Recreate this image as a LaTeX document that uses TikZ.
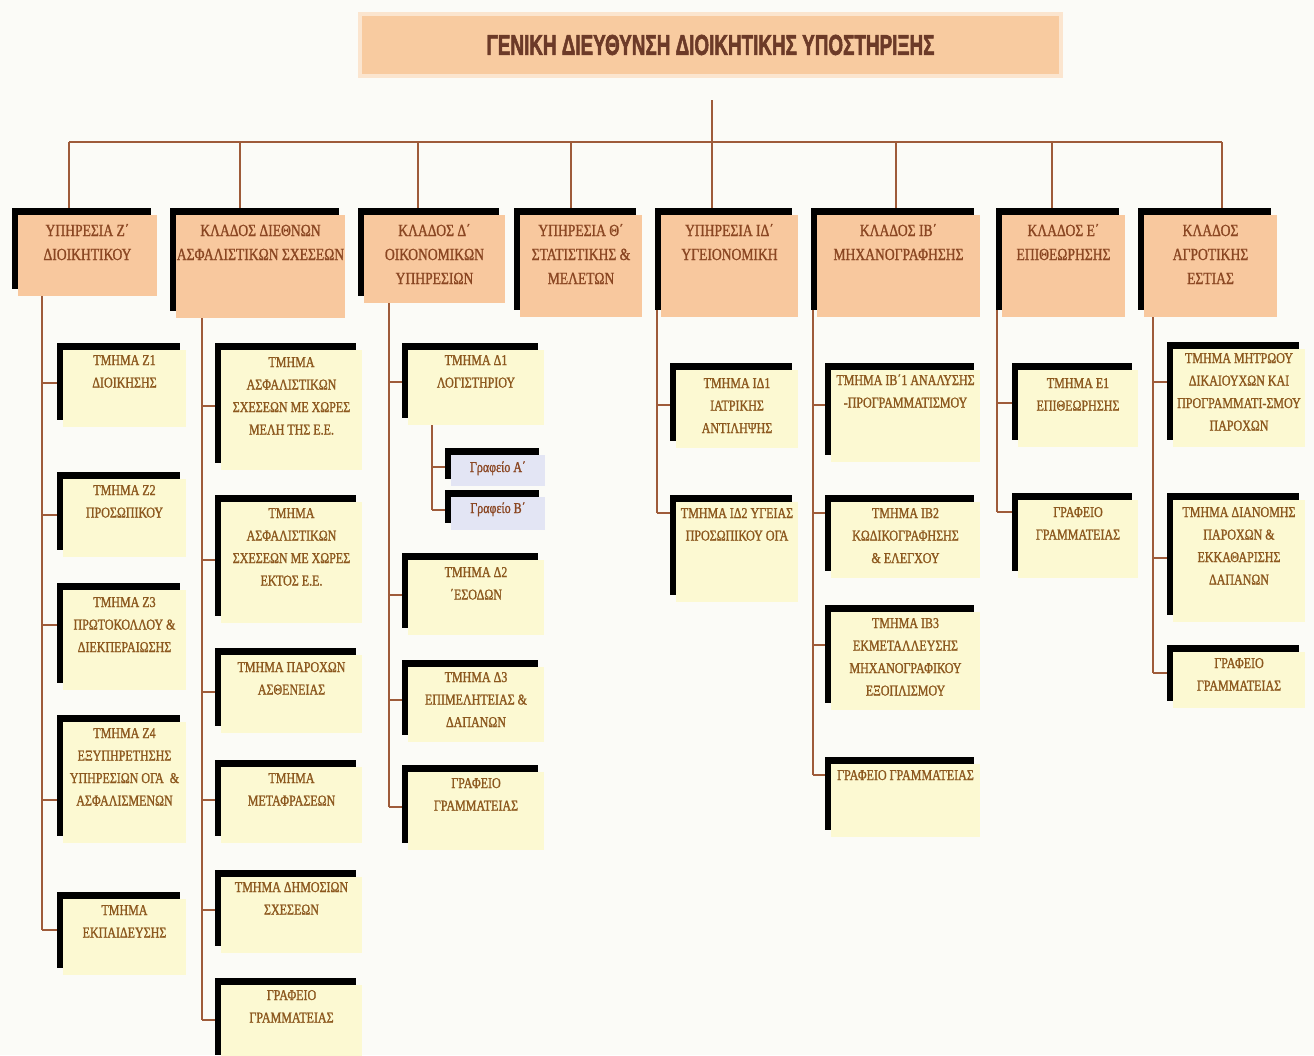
\documentclass[tikz,border=0pt]{standalone}
\usepackage{fontspec}
\setmainfont{Liberation Serif}
\newfontfamily\bodyfont[FakeStretch=0.8,FakeBold=1.2]{Liberation Serif}
\newfontfamily\titlefont[FakeBold=2.5]{Liberation Sans}
\usetikzlibrary{shadows,backgrounds}
\definecolor{bg}{HTML}{FBFBF7}
\definecolor{hdr}{HTML}{F8CBA0}
\definecolor{lone}{HTML}{F8C89E}
\definecolor{ltwo}{HTML}{FCF9D2}
\definecolor{lgraf}{HTML}{E3E5F4}
\definecolor{txtone}{HTML}{8A4622}
\definecolor{txttwo}{HTML}{8C581E}
\definecolor{conn}{HTML}{9E5B3A}
\definecolor{ttl}{HTML}{6C3A28}
\newcommand\ov[1]{\makebox[0pt]{#1}}
\newcommand\ubox[8]{%
  \node[#2, inner sep=0pt, outer sep=0pt, anchor=north west] (#1) at (#3,#4)
  {\parbox[c][\dimexpr#6pt-#4pt\relax][t]{\dimexpr#5pt-#3pt\relax}{\exhyphenpenalty=10000\hyphenpenalty=10000\centering\rule{0pt}{#7pt}#8\par}};}
\newcommand\child[9]{\ubox{#1}{#2}{#3}{#4}{#5}{#6}{#7}{#9}\coordinate (#1-in) at (#3,#8);}
\tikzset{
  blackl/.style={drop shadow={shadow xshift=-6pt,shadow yshift=7pt,fill=black,opacity=1}},
  lvlone/.style={blackl, fill=lone, text=txtone, font=\bodyfont\fontsize{17}{24}\selectfont},
  lvltwo/.style={blackl, fill=ltwo, text=txttwo, font=\bodyfont\fontsize{15}{22.5}\selectfont},
  grafbox/.style={blackl, fill=lgraf, text=txtone, font=\bodyfont\fontsize{15}{22}\selectfont},
  wire/.style={draw=conn, line width=1.4pt},
}
\begin{document}
\begin{tikzpicture}[x=1pt,y=-1pt]
\useasboundingbox (0,0) rectangle (1314,1055);
% header
\node[fill=hdr, draw=hdr!50, line width=4pt, minimum width=701pt, minimum height=62pt, inner sep=0pt, text=ttl] (top) at (710.5,45)
  {\raisebox{-3pt}{\resizebox{448pt}{20pt}{\titlefont\bfseries ΓΕΝΙΚΗ ΔΙΕΥΘΥΝΣΗ ΔΙΟΙΚΗΤΙΚΗΣ ΥΠΟΣΤΗΡΙΞΗΣ}}};
% level one
\ubox{b1}{lvlone}{18}{215}{157}{296}{21}{ΥΠΗΡΕΣΙΑ Ζ΄\\ΔΙΟΙΚΗΤΙΚΟΥ}
\ubox{b2}{lvlone}{176}{215}{345}{318}{21}{ΚΛΑΔΟΣ ΔΙΕΘΝΩΝ\\\ov{ΑΣΦΑΛΙΣΤΙΚΩΝ ΣΧΕΣΕΩΝ}}
\ubox{b3}{lvlone}{364}{215}{505}{303}{21}{ΚΛΑΔΟΣ Δ΄\\ΟΙΚΟΝΟΜΙΚΩΝ\\ΥΠΗΡΕΣΙΩΝ}
\ubox{b4}{lvlone}{520}{215}{642}{317}{21}{ΥΠΗΡΕΣΙΑ Θ΄\\\ov{ΣΤΑΤΙΣΤΙΚΗΣ \&}\\ΜΕΛΕΤΩΝ}
\ubox{b5}{lvlone}{661}{215}{798}{317}{21}{ΥΠΗΡΕΣΙΑ ΙΔ΄\\ΥΓΕΙΟΝΟΜΙΚΗ}
\ubox{b6}{lvlone}{817}{215}{980}{317}{21}{ΚΛΑΔΟΣ ΙΒ΄\\\ov{ΜΗΧΑΝΟΓΡΑΦΗΣΗΣ}}
\ubox{b7}{lvlone}{1002}{215}{1125}{317}{21}{ΚΛΑΔΟΣ Ε΄\\ΕΠΙΘΕΩΡΗΣΗΣ}
\ubox{b8}{lvlone}{1144}{215}{1277}{317}{21}{ΚΛΑΔΟΣ\\ΑΓΡΟΤΙΚΗΣ\\ΕΣΤΙΑΣ}
% column 1
\child{z1}{lvltwo}{63}{350}{186}{427}{15}{383}{ΤΜΗΜΑ Ζ1\\ΔΙΟΙΚΗΣΗΣ}
\child{z2}{lvltwo}{63}{479}{186}{557}{16}{515}{ΤΜΗΜΑ Ζ2\\ΠΡΟΣΩΠΙΚΟΥ}
\child{z3}{lvltwo}{63}{590}{186}{690}{17}{625}{ΤΜΗΜΑ Ζ3\\\ov{ΠΡΩΤΟΚΟΛΛΟΥ \&}\\ΔΙΕΚΠΕΡΑΙΩΣΗΣ}
\child{z4}{lvltwo}{63}{722}{186}{843}{16}{800}{ΤΜΗΜΑ Ζ4\\ΕΞΥΠΗΡΕΤΗΣΗΣ\\\ov{ΥΠΗΡΕΣΙΩΝ ΟΓΑ \ \&}\\ΑΣΦΑΛΙΣΜΕΝΩΝ}
\child{z5}{lvltwo}{63}{899}{186}{975}{16}{930}{ΤΜΗΜΑ\\ΕΚΠΑΙΔΕΥΣΗΣ}
% column 2
\child{c2a}{lvltwo}{221}{350}{362}{470}{17}{406}{ΤΜΗΜΑ\\ΑΣΦΑΛΙΣΤΙΚΩΝ\\\ov{ΣΧΕΣΕΩΝ ΜΕ ΧΩΡΕΣ}\\ΜΕΛΗ ΤΗΣ Ε.Ε.}
\child{c2b}{lvltwo}{221}{502}{362}{623}{16}{560}{ΤΜΗΜΑ\\ΑΣΦΑΛΙΣΤΙΚΩΝ\\\ov{ΣΧΕΣΕΩΝ ΜΕ ΧΩΡΕΣ}\\ΕΚΤΟΣ Ε.Ε.}
\child{c2c}{lvltwo}{221}{655}{362}{733}{17}{692}{\ov{ΤΜΗΜΑ ΠΑΡΟΧΩΝ}\\ΑΣΘΕΝΕΙΑΣ}
\child{c2d}{lvltwo}{221}{767}{362}{843}{16}{800}{ΤΜΗΜΑ\\ΜΕΤΑΦΡΑΣΕΩΝ}
\child{c2e}{lvltwo}{221}{877}{362}{953}{15}{910}{\ov{ΤΜΗΜΑ ΔΗΜΟΣΙΩΝ}\\ΣΧΕΣΕΩΝ}
\child{c2f}{lvltwo}{221}{985}{362}{1062}{15}{1020}{ΓΡΑΦΕΙΟ\\ΓΡΑΜΜΑΤΕΙΑΣ}
% column 3
\child{d1}{lvltwo}{408}{350}{544}{425}{15}{382}{ΤΜΗΜΑ Δ1\\ΛΟΓΙΣΤΗΡΙΟΥ}
\child{ga}{grafbox}{451}{455}{545}{486}{17}{467}{Γραφείο Α΄}
\child{gb}{grafbox}{451}{497}{545}{530}{16}{510}{Γραφείο Β΄}
\child{d2}{lvltwo}{408}{560}{544}{635}{17}{595}{ΤΜΗΜΑ Δ2\\΄ΕΣΟΔΩΝ}
\child{d3}{lvltwo}{408}{667}{544}{742}{15}{700}{ΤΜΗΜΑ Δ3\\\ov{ΕΠΙΜΕΛΗΤΕΙΑΣ \&}\\ΔΑΠΑΝΩΝ}
\child{d4}{lvltwo}{408}{772}{544}{850}{16}{807}{ΓΡΑΦΕΙΟ\\ΓΡΑΜΜΑΤΕΙΑΣ}
% column 5
\child{i1}{lvltwo}{676}{370}{798}{448}{18}{405}{ΤΜΗΜΑ ΙΔ1\\ΙΑΤΡΙΚΗΣ\\ΑΝΤΙΛΗΨΗΣ}
\child{i2}{lvltwo}{676}{502}{798}{602}{16}{513}{\ov{ΤΜΗΜΑ ΙΔ2 ΥΓΕΙΑΣ}\\\ov{ΠΡΟΣΩΠΙΚΟΥ ΟΓΑ}}
% column 6
\child{j1}{lvltwo}{831}{370}{980}{462}{15}{405}{\ov{ΤΜΗΜΑ ΙΒ΄1 ΑΝΑΛΥΣΗΣ}\\\ov{-ΠΡΟΓΡΑΜΜΑΤΙΣΜΟΥ}}
\child{j2}{lvltwo}{831}{502}{980}{578}{16}{513}{ΤΜΗΜΑ ΙΒ2\\ΚΩΔΙΚΟΓΡΑΦΗΣΗΣ\\\& ΕΛΕΓΧΟΥ}
\child{j3}{lvltwo}{831}{612}{980}{710}{16}{645}{ΤΜΗΜΑ ΙΒ3\\ΕΚΜΕΤΑΛΛΕΥΣΗΣ\\\ov{ΜΗΧΑΝΟΓΡΑΦΙΚΟΥ}\\ΕΞΟΠΛΙΣΜΟΥ}
\child{j4}{lvltwo}{831}{764}{980}{837}{16}{775}{\ov{ΓΡΑΦΕΙΟ ΓΡΑΜΜΑΤΕΙΑΣ}}
% column 7
\child{e1}{lvltwo}{1018}{370}{1138}{447}{18}{403}{ΤΜΗΜΑ Ε1\\ΕΠΙΘΕΩΡΗΣΗΣ}
\child{e2}{lvltwo}{1018}{500}{1138}{578}{17}{512}{ΓΡΑΦΕΙΟ\\ΓΡΑΜΜΑΤΕΙΑΣ}
% column 8
\child{a1}{lvltwo}{1173}{349}{1305}{447}{14}{382}{\ov{ΤΜΗΜΑ ΜΗΤΡΩΟΥ}\\\ov{ΔΙΚΑΙΟΥΧΩΝ ΚΑΙ}\\\ov{ΠΡΟΓΡΑΜΜΑΤΙ-ΣΜΟΥ}\\ΠΑΡΟΧΩΝ}
\child{a2}{lvltwo}{1173}{500}{1305}{622}{17}{558}{\ov{ΤΜΗΜΑ ΔΙΑΝΟΜΗΣ}\\ΠΑΡΟΧΩΝ \&\\ΕΚΚΑΘΑΡΙΣΗΣ\\ΔΑΠΑΝΩΝ}
\child{a3}{lvltwo}{1173}{652}{1305}{708}{16}{673}{ΓΡΑΦΕΙΟ\\ΓΡΑΜΜΑΤΕΙΑΣ}
% connectors
\coordinate (stem) at (712,100);
\coordinate (d1x) at (69,142);  \coordinate (d2x) at (240,142);
\coordinate (d3x) at (418,142); \coordinate (d4x) at (571,142);
\coordinate (d5x) at (712,142); \coordinate (d6x) at (896,142);
\coordinate (d7x) at (1052,142);\coordinate (d8x) at (1222,142);
\coordinate (s1) at (42,300);  \coordinate (s2) at (202,300);
\coordinate (s3) at (389,300); \coordinate (s3b) at (432,430);
\coordinate (s5) at (657,300); \coordinate (s6) at (813,300);
\coordinate (s7) at (997,300); \coordinate (s8) at (1153,300);
\begin{pgfonlayer}{background}
\fill[bg] (0,0) rectangle (1314,1055);
\draw[wire] (stem) -- (d5x);
\draw[wire] (d1x) -- (d8x);
\foreach \d/\b in {d1x/b1,d2x/b2,d3x/b3,d4x/b4,d5x/b5,d6x/b6,d7x/b7,d8x/b8}
  \draw[wire] (\d) -- (\d |- \b.north);
% spines
\draw[wire] ([yshift=7pt]b1.south -| s1) -- (s1 |- z5-in);
\draw[wire] ([yshift=7pt]b2.south -| s2) -- (s2 |- c2f-in);
\draw[wire] ([yshift=7pt]b3.south -| s3) -- (s3 |- d4-in);
\draw[wire] (d1.south -| s3b) -- (s3b |- gb-in);
\draw[wire] ([yshift=7pt]b5.south -| s5) -- (s5 |- i2-in);
\draw[wire] ([yshift=7pt]b6.south -| s6) -- (s6 |- j4-in);
\draw[wire] ([yshift=7pt]b7.south -| s7) -- (s7 |- e2-in);
\draw[wire] ([yshift=7pt]b8.south -| s8) -- (s8 |- a3-in);
\foreach \s/\c in {s1/z1,s1/z2,s1/z3,s1/z4,s1/z5,
  s2/c2a,s2/c2b,s2/c2c,s2/c2d,s2/c2e,s2/c2f,
  s3/d1,s3/d2,s3/d3,s3/d4,s3b/ga,s3b/gb,
  s5/i1,s5/i2,s6/j1,s6/j2,s6/j3,s6/j4,
  s7/e1,s7/e2,s8/a1,s8/a2,s8/a3}
  \draw[wire] (\s |- \c-in) -- (\c-in);
\end{pgfonlayer}
\end{tikzpicture}
\end{document}
